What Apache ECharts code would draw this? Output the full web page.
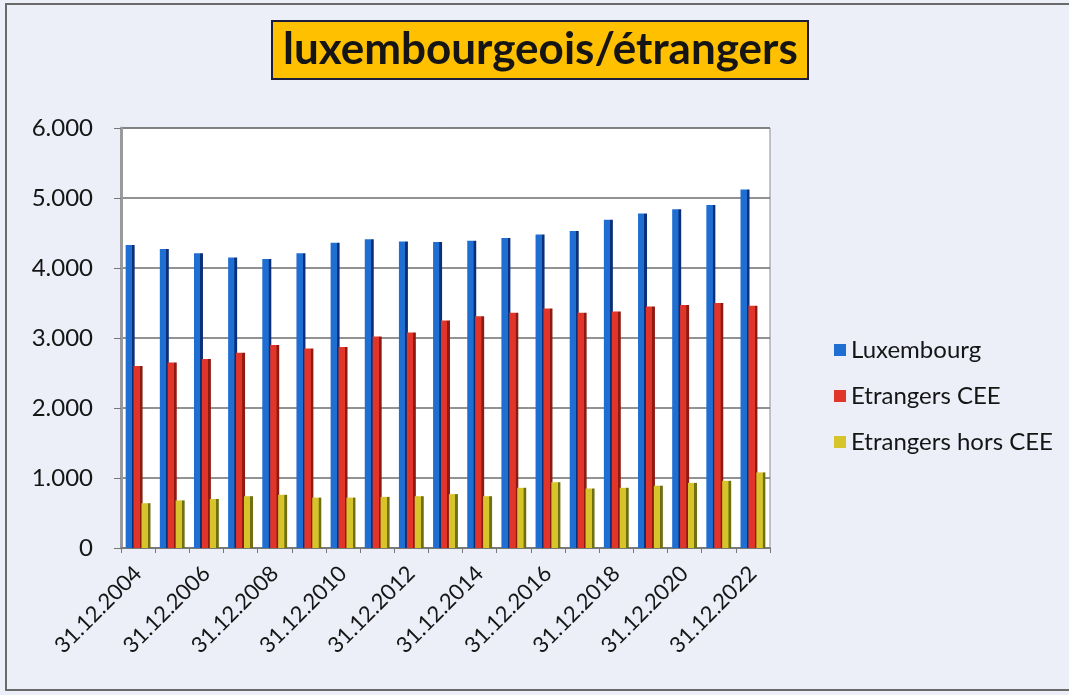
<!DOCTYPE html>
<html>
<head>
<meta charset="utf-8">
<script src="https://cdn.jsdelivr.net/npm/echarts@6/dist/echarts.min.js"></script>
<style>
  html, body { margin: 0; padding: 0; background: #eceef8; }
  #chart { width: 1069px; height: 695px; }
</style>
</head>
<body>
<div id="chart"></div>
<script>
  // data
  var years = ['31.12.2004', '31.12.2005', '31.12.2006', '31.12.2007', '31.12.2008', '31.12.2009',
    '31.12.2010', '31.12.2011', '31.12.2012', '31.12.2013', '31.12.2014', '31.12.2015',
    '31.12.2016', '31.12.2017', '31.12.2018', '31.12.2019', '31.12.2020', '31.12.2021', '31.12.2022']
  var luxembourg = [4330, 4270, 4210, 4150, 4130, 4210, 4360, 4410, 4380, 4370, 4390, 4430,
    4480, 4530, 4690, 4780, 4840, 4900, 5120]
  var etrangersCEE = [2600, 2650, 2700, 2790, 2900, 2850, 2870, 3020, 3080, 3250, 3310, 3360,
    3420, 3360, 3380, 3450, 3470, 3500, 3460]
  var horsCEE = [640, 680, 700, 740, 760, 720, 720, 730, 740, 770, 740, 860,
    940, 850, 860, 890, 930, 960, 1080]

  var chart = echarts.init(document.getElementById('chart'))

  // flat bar with a dark right side, like the 3d columns of the original
  function face(main, side){
    return new echarts.graphic.LinearGradient(0, 0, 1, 0, [
      { offset: 0, color: main },
      { offset: 0.68, color: main },
      { offset: 0.72, color: side },
      { offset: 1, color: side }
    ])
  }

  var font = 'Lato, "Open Sans", sans-serif'

  var option = {
    backgroundColor: '#eceef8',
    animation: false,
    title: {
      text: 'luxembourgeois/étrangers',
      left: 272,
      top: 21,
      padding: [7, 11, 7, 11],
      backgroundColor: '#ffc000',
      borderColor: '#1c1c3c',
      borderWidth: 2,
      textStyle: {
        fontFamily: font,
        fontSize: 44,
        fontWeight: 'bold',
        color: '#151515'
      }
    },
    legend: {
      orient: 'vertical',
      left: 829,
      top: 333,
      itemWidth: 12,
      itemHeight: 12,
      itemGap: 22,
      icon: 'rect',
      textStyle: { fontFamily: font, fontSize: 24, color: '#151515' },
      data: [
        { name: 'Luxembourg', itemStyle: { color: '#1f6fd3' } },
        { name: 'Etrangers CEE', itemStyle: { color: '#e2352a' } },
        { name: 'Etrangers hors CEE', itemStyle: { color: '#d6c42a' } }
      ]
    },
    grid: {
      left: 121,
      right: 299,
      top: 128,
      bottom: 147,
      show: true,
      backgroundColor: '#ffffff',
      borderColor: '#8c8c8c',
      borderWidth: 1
    },
    xAxis: {
      type: 'category',
      data: years,
      axisLine: { lineStyle: { color: '#777', width: 1.5 } },
      axisTick: { show: true, interval: 0, length: 5, lineStyle: { color: '#777' } },
      axisLabel: {
        interval: 1,
        rotate: 45,
        margin: 22,
        fontFamily: font,
        fontSize: 22,
        color: '#151515'
      }
    },
    yAxis: {
      type: 'value',
      min: 0,
      max: 6000,
      interval: 1000,
      axisLine: { show: true, lineStyle: { color: '#9a9a9a', width: 3 } },
      axisTick: { show: true, length: 7, lineStyle: { color: '#777' } },
      splitLine: { lineStyle: { color: '#6e6e6e', width: 1.5 } },
      axisLabel: {
        margin: 28,
        fontFamily: font,
        fontSize: 24,
        color: '#151515',
        formatter: function(v){
          return v === 0 ? '0' : String(v).replace(/\B(?=(\d{3})+(?!\d))/g, '.')
        }
      }
    },
    series: [
      {
        name: 'Luxembourg',
        type: 'bar',
        data: luxembourg,
        barWidth: 9,
        barGap: '-12%',
        itemStyle: { color: face('#1f6fd3', '#0c2f7a') }
      },
      {
        name: 'Etrangers CEE',
        type: 'bar',
        data: etrangersCEE,
        barWidth: 9,
        barGap: '-12%',
        itemStyle: { color: face('#e2352a', '#8e1b12') }
      },
      {
        name: 'Etrangers hors CEE',
        type: 'bar',
        data: horsCEE,
        barWidth: 9,
        barGap: '-12%',
        itemStyle: { color: face('#d6c42a', '#6f7012') }
      }
    ],
    graphic: [
      {
        type: 'rect',
        shape: { x: 6, y: 4, width: 1080, height: 686 },
        style: { fill: 'none', stroke: '#6a6a6a', lineWidth: 2 },
        silent: true
      }
    ]
  }
  chart.setOption(option)
</script>
</body>
</html>
